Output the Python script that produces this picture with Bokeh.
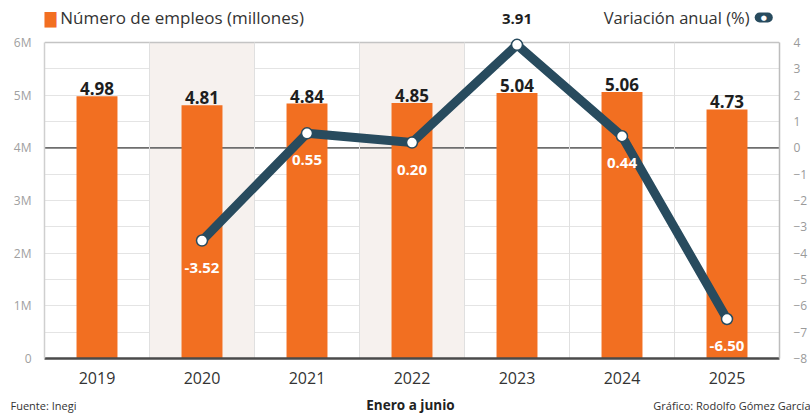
from bokeh.plotting import figure
from bokeh.models import (Range1d, LinearAxis, FixedTicker, ColumnDataSource,
                          LabelSet, Label, Span, BoxAnnotation)
from bokeh.core.properties import value
from bokeh.embed import file_html
from bokeh.resources import INLINE

# ---- data ----
years = ["2019", "2020", "2021", "2022", "2023", "2024", "2025"]
empleos = [4.98, 4.81, 4.84, 4.85, 5.04, 5.06, 4.73]          # millones
variacion_years = ["2020", "2021", "2022", "2023", "2024", "2025"]
variacion = [-3.52, 0.55, 0.20, 3.91, 0.44, -6.50]           # %
left_ticks = [0, 1, 2, 3, 4, 5, 6]
left_tick_labels = ["0", "1M", "2M", "3M", "4M", "5M", "6M"]
right_ticks = [-8, -7, -6, -5, -4, -3, -2, -1, 0, 1, 2, 3, 4]

# ---- style ----
ORANGE = "#F26F21"
TEAL = "#284B5E"
FONT = "Open Sans"
W, H_MAIN, H_FOOT = 810, 390, 28
B_LEFT, B_RIGHT, B_BOTTOM = 44, 28, 32
HEAD = 42                                   # pixels above the chart area kept inside frame
frame_h = H_MAIN - B_BOTTOM
plot_h = frame_h - HEAD
L0, L1 = left_ticks[0], left_ticks[-1]
R0, R1 = right_ticks[0], right_ticks[-1]
ltop = L0 + (L1 - L0) * frame_h / plot_h
rtop = R0 + (R1 - R0) * frame_h / plot_h

xs = list(range(len(years)))
vx = [years.index(y) for y in variacion_years]

p = figure(width=W, height=H_MAIN, x_range=Range1d(-0.5, len(years) - 0.5),
           y_range=Range1d(L0, ltop), output_backend="svg", toolbar_location=None,
           min_border_left=B_LEFT, min_border_right=B_RIGHT, min_border_top=0,
           min_border_bottom=B_BOTTOM)
p.extra_y_ranges = {"var": Range1d(R0, rtop)}
p.background_fill_color = "white"
p.border_fill_color = "white"
p.outline_line_color = None

# alternating faint column bands
for i in (1, 3):
    p.add_layout(BoxAnnotation(left=i - 0.5, right=i + 0.5, bottom=L0, top=L1,
                               fill_color="#f6f1ee", fill_alpha=1.0, line_color=None,
                               level="underlay"))

# grids
p.ygrid.ticker = FixedTicker(ticks=[k * 0.5 for k in range(13)])
p.ygrid.grid_line_color = "#e4e4e4"
p.ygrid.grid_line_width = 1
p.xgrid.visible = False
bounds = [k + 0.5 for k in xs[:-1]]
p.segment(x0=bounds, y0=[L0] * len(bounds), x1=bounds, y1=[L1] * len(bounds),
          line_color="#e0e0e0", line_width=1)

# top border and zero line of the variation axis
p.add_layout(Span(location=L1, dimension="width", line_color="#c4c4c4",
                  line_width=1.5, level="underlay"))
p.add_layout(Span(location=0, dimension="width", y_range_name="var",
                  line_color="#6e6e6e", line_width=1.6, level="underlay"))

# bars
bar_src = ColumnDataSource(dict(x=xs, top=empleos, label=[f"{v:.2f}" for v in empleos]))
p.vbar(x="x", top="top", width=0.39, source=bar_src, fill_color=ORANGE, line_color=None)

# line + markers
p.line(vx, variacion, y_range_name="var", line_width=9, line_color=TEAL,
       line_join="round", line_cap="round")
p.scatter(vx, variacion, y_range_name="var", size=11, fill_color="white",
          line_color=TEAL, line_width=1.5)

# bar labels
p.add_layout(LabelSet(x="x", y="top", text="label", source=bar_src,
                      text_align="center", text_baseline="bottom", y_offset=1,
                      text_font=value(FONT), text_font_style="bold",
                      text_font_size="17px", text_color="#1e1e1e"))

# variation labels
vmax = max(variacion)
var_src = ColumnDataSource(dict(
    x=vx, y=variacion, label=[f"{v:.2f}" for v in variacion],
    color=["#1e1e1e" if v == vmax else "white" for v in variacion],
    off=[26 if v == vmax else -27 for v in variacion]))
p.add_layout(LabelSet(x="x", y="y", text="label", source=var_src, y_range_name="var",
                      text_align="center", text_baseline="middle", y_offset="off",
                      text_color="color", text_font=value(FONT),
                      text_font_style="bold", text_font_size="15px"))

# axes
ya = p.yaxis[0]
ya.ticker = FixedTicker(ticks=left_ticks)
ya.bounds = (L0, L1)
ya.major_label_overrides = {t: l for t, l in zip(left_ticks, left_tick_labels)}
ya.axis_line_color = "#cfcfcf"
ya.axis_line_width = 1.5
ya.major_tick_line_color = None
ya.minor_tick_line_color = None
ya.major_label_standoff = 7
ya.major_label_text_font = FONT
ya.major_label_text_font_size = "12px"
ya.major_label_text_color = "#a0a0a0"

ra = LinearAxis(y_range_name="var", ticker=FixedTicker(ticks=right_ticks), bounds=(R0, R1))
ra.axis_line_color = "#bdbdbd"
ra.axis_line_width = 1.5
ra.major_tick_line_color = None
ra.minor_tick_line_color = None
ra.major_label_standoff = 8
ra.major_label_text_font = FONT
ra.major_label_text_font_size = "12px"
ra.major_label_text_color = "#9a9a9a"
p.add_layout(ra, "right")

xa = p.xaxis[0]
xa.ticker = FixedTicker(ticks=xs)
xa.major_label_overrides = {i: y for i, y in zip(xs, years)}
xa.axis_line_color = "#4a4a4a"
xa.axis_line_width = 2.5
xa.major_tick_line_color = None
xa.minor_tick_line_color = None
xa.major_label_standoff = 7
xa.major_label_text_font = FONT
xa.major_label_text_font_size = "16px"
xa.major_label_text_color = "#333333"

# legend (top, inside the extended frame)
LEG_Y = L1 + (HEAD - 17) * (L1 - L0) / plot_h
p.add_layout(Label(x=-0.457, y=LEG_Y, text="■", text_align="center", text_baseline="middle",
                   text_font="DejaVu Sans", text_font_size="20px", text_color=ORANGE))
p.add_layout(Label(x=-0.35, y=LEG_Y, text="Número de empleos (millones)", text_align="left",
                   text_baseline="middle", text_font=FONT, text_font_size="17px",
                   text_color="#333333"))
p.add_layout(Label(x=6.215, y=LEG_Y, text="Variación anual (%)", text_align="right",
                   text_baseline="middle", text_font=FONT, text_font_size="16.5px",
                   text_color="#333333"))
p.add_layout(Label(x=6.35, y=LEG_Y, text="●", text_align="center", text_baseline="middle",
                   text_font="DejaVu Sans", text_font_size="7px", text_color="white",
                   background_fill_color=TEAL, border_radius=5, padding=(6, 1)))

# footer figure (separate root so its frame spans the full width)
f = figure(width=W, height=H_FOOT, x_range=Range1d(0, W), y_range=Range1d(0, H_FOOT),
           output_backend="svg", toolbar_location=None, x_axis_type=None,
           y_axis_type=None, min_border=0)
f.outline_line_color = None
f.background_fill_color = "white"
f.border_fill_color = "white"
f.add_layout(Label(x=10, y=13, text="Fuente: Inegi", text_align="left",
                   text_baseline="middle", text_font=FONT, text_font_size="11px",
                   text_color="#333333"))
f.add_layout(Label(x=410, y=14, text="Enero a junio", text_align="center",
                   text_baseline="middle", text_font=FONT, text_font_style="bold",
                   text_font_size="13.5px", text_color="#222222"))
f.add_layout(Label(x=810, y=13, text="Gráfico: Rodolfo Gómez García", text_align="right",
                   text_baseline="middle", text_font=FONT, text_font_size="11px",
                   text_color="#333333"))

open("out.html", "w").write(file_html((p, f), INLINE))
